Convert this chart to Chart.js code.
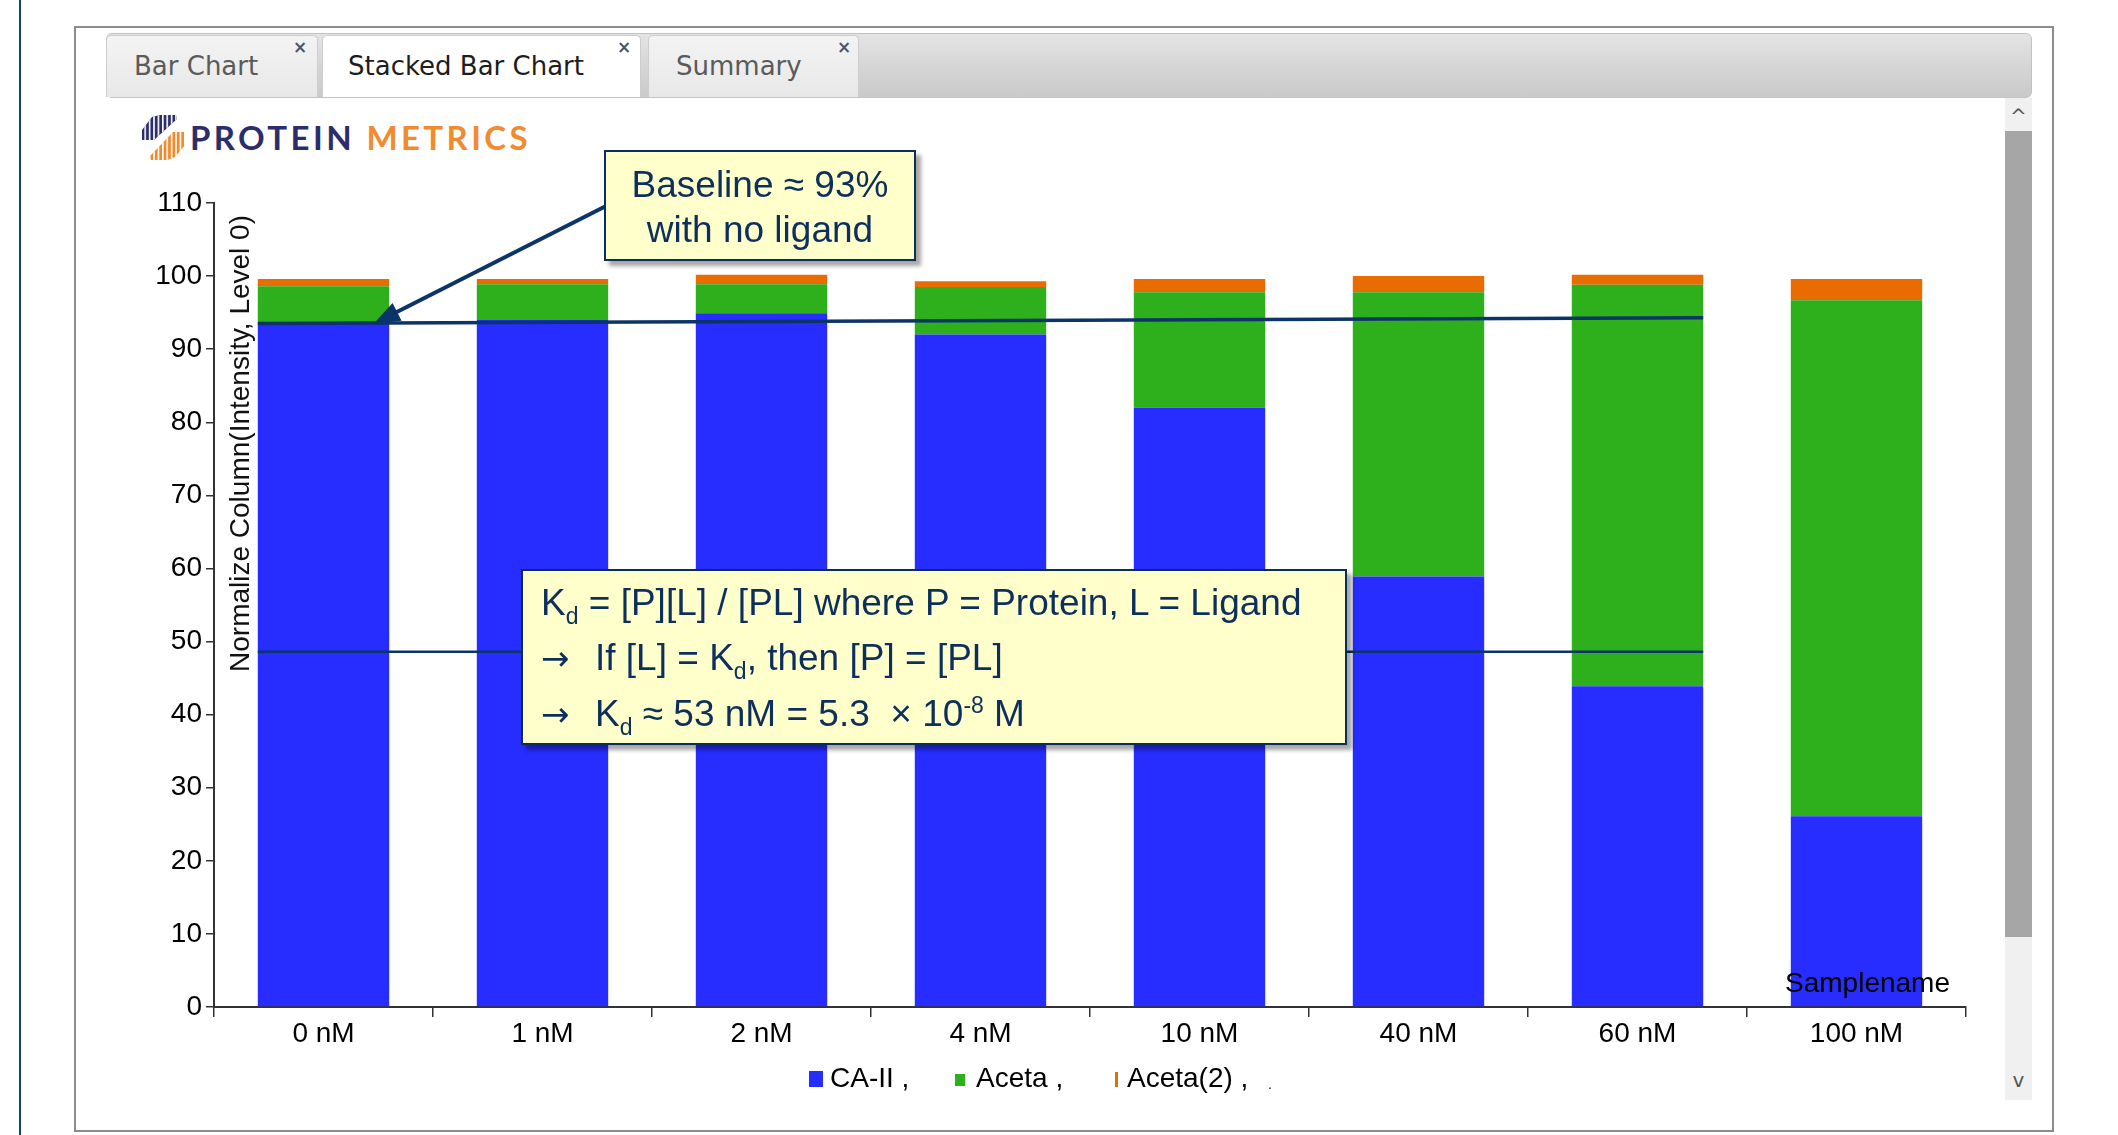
<!DOCTYPE html>
<html>
<head>
<meta charset="utf-8">
<script src="https://cdn.jsdelivr.net/npm/chart.js@4.4.0/dist/chart.umd.min.js"></script>
<style>
  body { margin:0; width:2118px; height:1135px; overflow:hidden; background:#fff; position:relative; font-family:"Liberation Sans", Arial, sans-serif; }
  .abs { position:absolute; }
  .sideline { left:19px; top:0; width:2px; height:1135px; background:#17407e; }
  .panel { left:74px; top:26px; width:1980px; height:1106px; border:2px solid #8c8c8c; box-sizing:border-box; }
  .tabbar { left:106px; top:33px; width:1926px; height:65px; border:1px solid #c2c2c2; border-radius:6px; box-sizing:border-box;
            background:linear-gradient(#e4e4e4, #d6d6d6 50%, #cacaca); }
  .tab { top:35px; height:62px; box-sizing:border-box; border:1px solid #cdcdcd; border-bottom:none; border-radius:5px 5px 0 0;
         background:linear-gradient(#f3f3f3, #e8e8e8); font-family:"DejaVu Sans", Verdana, sans-serif; font-size:26px; color:#5a5a5a; line-height:60px; }
  .tab.active { background:#fff; color:#1d1d1d; }
  .tab .x { position:absolute; top:-19px; font-size:17px; font-weight:bold; color:#555; }
  .logo { left:190px; top:116px; font-family:Lato, "Open Sans", sans-serif; font-size:33px; letter-spacing:3.4px; line-height:42px; font-weight:bold; }
  .scroll { left:2005px; top:98px; width:27px; height:1002px; background:#f0f0f0; }
  .thumb { left:2005px; top:131px; width:27px; height:806px; background:#a6a6a6; }
  .arr { left:2005px; width:27px; text-align:center; color:#555; font-family:"DejaVu Sans", sans-serif; font-size:20px; }
  canvas { position:absolute; left:0; top:0; }
  .callout { position:absolute; background:#ffffcc; border:2px solid #0b2d5a; box-sizing:border-box; color:#0d2f5c;
             box-shadow:5px 5px 4px rgba(0,0,0,0.35); font-family:"Liberation Sans", Arial, sans-serif; }
  .c1 { left:604px; top:150px; width:312px; height:111px; font-size:37px; text-align:center; line-height:45px; padding-top:10px; }
  .c2 { left:521px; top:569px; width:826px; height:176px; font-size:37px; line-height:55px; padding:4px 0 0 18px; white-space:nowrap; }
  .c2 sub { font-size:23px; vertical-align:-9px; line-height:0; }
  .c2 sup { font-size:23px; vertical-align:13px; line-height:0; }
  .c2 .ar { font-family:"DejaVu Sans", sans-serif; font-size:34px; display:inline-block; width:54px; }
  .legend { left:0; top:1060px; width:2118px; height:36px; font-size:28px; color:#000; }
  .legend span { position:absolute; top:0; line-height:36px; }
</style>
</head>
<body>
<div class="abs sideline"></div>
<div class="abs panel"></div>
<div class="abs tabbar"></div>
<div class="abs tab" style="left:106px;width:212px;padding-left:27px;">Bar Chart<span class="x" style="left:186px">×</span></div>
<div class="abs tab active" style="left:322px;width:319px;padding-left:25px;">Stacked Bar Chart<span class="x" style="left:294px">×</span></div>
<div class="abs tab" style="left:648px;width:211px;padding-left:27px;">Summary<span class="x" style="left:188px">×</span></div>

<svg class="abs" style="left:140px;top:114px" width="48" height="48" viewBox="0 0 48 48">
  <defs>
    <pattern id="st" width="4.4" height="48" patternUnits="userSpaceOnUse"><rect x="0" y="0" width="1.6" height="48" fill="#fff"/></pattern>
    <clipPath id="top"><polygon points="2,16 12,3 20,1 36,1 37,5 14,26 2,26"/></clipPath>
    <clipPath id="bot"><polygon points="45,31 35,43 27,46 11,46 10,42 33,18 45,18"/></clipPath>
  </defs>
  <g clip-path="url(#top)"><rect width="48" height="48" fill="#2c2e6c"/><rect width="48" height="48" fill="url(#st)"/></g>
  <g clip-path="url(#bot)"><rect width="48" height="48" fill="#f08a2c"/><rect width="48" height="48" fill="url(#st)"/></g>
</svg>
<div class="abs logo"><span style="color:#2c2e6c">PROTEIN</span> <span style="color:#f28a30">METRICS</span></div>

<div class="abs scroll"></div>
<div class="abs thumb"></div>
<div class="abs arr" style="top:104px">^</div>
<div class="abs arr" style="top:1068px">v</div>

<canvas id="chart" width="2118" height="1135"></canvas>

<div class="callout c1">Baseline ≈ 93%<br>with no ligand</div>
<div class="callout c2">K<sub>d</sub> = [P][L] / [PL] where P = Protein, L = Ligand<br><span class="ar">→</span>If [L] = K<sub>d</sub>, then [P] = [PL]<br><span class="ar">→</span>K<sub>d</sub> ≈ 53 nM = 5.3 &nbsp;× 10<sup>-8</sup> M</div>

<div class="abs legend" id="legend"></div>

<script>
// data
var categories = ['0 nM', '1 nM', '2 nM', '4 nM', '10 nM', '40 nM', '60 nM', '100 nM']
var caII = [93.6, 94.0, 94.9, 92.0, 82.0, 58.9, 43.9, 26.1]
var aceta = [5.0, 4.9, 4.0, 6.5, 15.8, 38.9, 54.9, 70.6]
var aceta2 = [1.0, 0.7, 1.3, 0.8, 1.8, 2.2, 1.4, 2.9]
var seriesNames = ['CA-II', 'Aceta', 'Aceta(2)']
var seriesColors = ['#272cff', '#2db01b', '#e86c00']
var yMin = 0, yMax = 110, yStep = 10

// reference lines (value at start, value at end) over category span
var baselineLine = [93.5, 94.3]
var kdLine = [48.6, 48.6]
var lineSpan = [-0.3, 6.3]
var arrowTip = [0.23, 93.5]

var yTitle = 'Normalize Column(Intensity, Level 0)'
var xTitle = 'Samplename'
var fontFam = '"Liberation Sans", Arial, sans-serif'

const refPlugin = {
  id: 'refLines',
  afterDatasetsDraw(chart) {
    const ctx = chart.ctx
    const x = chart.scales.x, y = chart.scales.y
    const catW = x.getPixelForValue(1) - x.getPixelForValue(0)
    const px = v => x.getPixelForValue(0) + v * catW
    ctx.save()
    ctx.strokeStyle = '#0b3468'
    ctx.lineWidth = 3.5
    ctx.beginPath()
    ctx.moveTo(px(lineSpan[0]), y.getPixelForValue(baselineLine[0]))
    ctx.lineTo(px(lineSpan[1]), y.getPixelForValue(baselineLine[1]))
    ctx.stroke()
    ctx.lineWidth = 2.5
    ctx.beginPath()
    ctx.moveTo(px(lineSpan[0]), y.getPixelForValue(kdLine[0]))
    ctx.lineTo(px(lineSpan[1]), y.getPixelForValue(kdLine[1]))
    ctx.stroke()

    // arrow from the baseline callout
    const tx = px(arrowTip[0]), ty = y.getPixelForValue(arrowTip[1])
    const sx = 610, sy = 204
    const ang = Math.atan2(ty - sy, tx - sx)
    ctx.lineWidth = 4
    ctx.beginPath()
    ctx.moveTo(sx, sy)
    ctx.lineTo(tx - 18 * Math.cos(ang), ty - 18 * Math.sin(ang))
    ctx.stroke()
    ctx.fillStyle = '#0b3468'
    ctx.beginPath()
    ctx.moveTo(tx, ty)
    ctx.lineTo(tx - 26 * Math.cos(ang) + 10 * Math.sin(ang), ty - 26 * Math.sin(ang) - 10 * Math.cos(ang))
    ctx.lineTo(tx - 26 * Math.cos(ang) - 10 * Math.sin(ang), ty - 26 * Math.sin(ang) + 10 * Math.cos(ang))
    ctx.closePath()
    ctx.fill()

    // axis titles
    const a = chart.chartArea
    ctx.fillStyle = '#111'
    ctx.font = '28px ' + fontFam
    ctx.translate(a.left + 27, a.top + 12)
    ctx.rotate(-Math.PI / 2)
    ctx.textAlign = 'right'
    ctx.textBaseline = 'middle'
    ctx.fillText(yTitle, 0, 0)
    ctx.restore()

    ctx.save()
    ctx.fillStyle = '#000'
    ctx.font = '28px ' + fontFam
    ctx.textAlign = 'right'
    ctx.textBaseline = 'alphabetic'
    ctx.fillText(xTitle, a.right - 16, a.bottom - 15)
    ctx.restore()
  }
}

var ctx = document.getElementById('chart').getContext('2d')
var myChart = new Chart(ctx, {
  type: 'bar',
  data: {
    labels: categories,
    datasets: [
      { label: seriesNames[0], data: caII, backgroundColor: seriesColors[0] },
      { label: seriesNames[1], data: aceta, backgroundColor: seriesColors[1] },
      { label: seriesNames[2], data: aceta2, backgroundColor: seriesColors[2] }
    ]
  },
  options: {
    responsive: false,
    animation: false,
    devicePixelRatio: 1,
    layout: { padding: { left: 154, right: 152, top: 203, bottom: 58 } },
    datasets: { bar: { categoryPercentage: 1, barPercentage: 0.6 } },
    plugins: { legend: { display: false }, tooltip: { enabled: false } },
    scales: {
      x: {
        stacked: true,
        grid: { offset: true, drawOnChartArea: false, tickLength: 10, color: '#333', lineWidth: 1.5 },
        border: { color: '#333', width: 2 },
        ticks: { color: '#000', font: { family: fontFam, size: 28 }, padding: 0 },
        afterFit: s => { s.height = 70 }
      },
      y: {
        stacked: true,
        min: yMin,
        max: yMax,
        ticks: { stepSize: yStep, color: '#000', font: { family: fontFam, size: 28 }, padding: 4 },
        grid: { drawOnChartArea: false, tickLength: 8, color: '#333', lineWidth: 1.5 },
        border: { color: '#333', width: 2 },
        afterFit: s => { s.width = 60 }
      }
    }
  },
  plugins: [refPlugin]
})

// legend with the odd markers of the original
var legend = document.getElementById('legend')
var markerStyle = [
  'width:14px;height:16px;top:11px',
  'width:10px;height:12px;top:14px',
  'width:3px;height:15px;top:12px'
]
var legendX = [809, 955, 1115]
seriesNames.forEach(function (name, i) {
  var m = document.createElement('span')
  m.style.cssText = 'left:' + legendX[i] + 'px;background:' + seriesColors[i] + ';' + markerStyle[i]
  legend.appendChild(m)
  var t = document.createElement('span')
  t.style.left = (legendX[i] + (i == 2 ? 12 : 21)) + 'px'
  t.textContent = name + ' ,'
  legend.appendChild(t)
})
var dot = document.createElement('span')
dot.style.cssText = 'left:1268px;font-size:14px;top:6px'
dot.textContent = '.'
legend.appendChild(dot)
</script>
</body>
</html>
